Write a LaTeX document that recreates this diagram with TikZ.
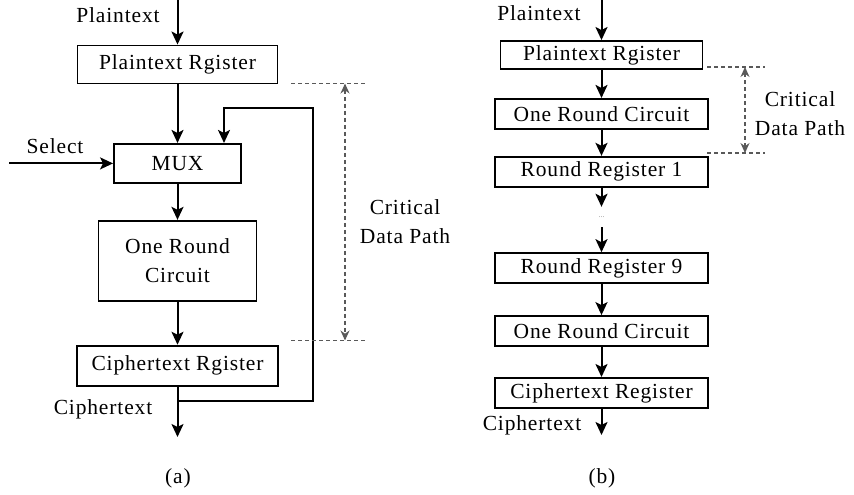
\documentclass[tikz,border=0pt]{standalone}
\usepackage{fontspec}
\setmainfont{Liberation Serif}[LetterSpace=4.0]
\usetikzlibrary{positioning, arrows.meta, calc}

\begin{document}
\begin{tikzpicture}[
		x=1pt, y=-1pt,
		>={Stealth[length=13pt, width=12pt, inset=3pt]},
		% Styles for the register / circuit boxes
		block/.style={
			draw, line width=1.9pt, inner sep=0pt, align=center,
			font=\fontsize{21.5}{29}\selectfont
		},
		% Style for the free text labels
		tag/.style={font=\fontsize{21.5}{29}\selectfont, inner sep=0pt, align=center},
		% Signal lines and the dashed critical path markers
		wire/.style={line width=2pt},
		mark_line/.style={black!65, line width=1.1pt, dash pattern=on 4pt off 3pt},
		mark_arrow/.style={mark_line, {Stealth[length=10pt, width=9pt]}-{Stealth[length=10pt, width=9pt]}}
		]
		
		\useasboundingbox (0,0) rectangle (854,495);
		
		% ==========================================
		% (a) Iterative architecture
		% ==========================================
		\node[block, minimum width=200pt, minimum height=38pt] (regPA) at (177.5,64.5) {Plaintext Rgister};
		\node[block, minimum width=127pt, minimum height=39pt, below=58.5pt of regPA] (mux) {MUX};
		\node[block, minimum width=158pt, minimum height=80pt, below=36pt of mux] (roundA) {One Round\\Circuit};
		\node[block, minimum width=201pt, minimum height=40pt, below=43pt of roundA] (regCA) {Ciphertext Rgister};
		
		% Inputs and outputs
		\node[tag] (plainA) at (118,15) {Plaintext};
		\coordinate (inA) at (177.5,0);
		\draw[wire, ->] (inA) -- (regPA.north);
		
		\node[tag] (select) at (55,146) {Select};
		\coordinate (selIn) at ([xshift=-104pt]mux.west);
		\draw[wire, ->] (selIn) -- (mux.west);
		
		\draw[wire, ->] (regPA.south) -- (mux.north);
		\draw[wire, ->] (mux.south) -- (roundA.north);
		\draw[wire, ->] (roundA.south) -- (regCA.north);
		
		\coordinate (outA) at (177.5,437);
		\draw[wire, ->] (regCA.south) -- (outA);
		\node[tag] (cipherA) at (103,409) {Ciphertext};
		
		% Feedback loop back into the MUX
		\coordinate (fbA) at (177.5,401);
		\coordinate (fbTop) at (313,108);
		\draw[wire, ->] (fbA) -| (fbTop) -| ([xshift=46.5pt]mux.north);
		
		% Critical data path marker
		\coordinate (cpA1) at (291,83.5);
		\coordinate (cpA2) at (291,340.5);
		\draw[mark_line] (cpA1) -- ++(75,0);
		\draw[mark_line] (cpA2) -- ++(75,0);
		\draw[mark_arrow] ($(cpA1)+(54,0)$) -- ($(cpA2)+(54,0)$);
		\node[tag] (critA) at (405,222) {Critical\\Data Path};
		
		\node[tag] (capA) at (178,478) {(a)};
		
		% ==========================================
		% (b) Unrolled architecture
		% ==========================================
		\node[block, minimum width=202pt, minimum height=28pt] (regPB) at (601.5,55) {Plaintext Rgister};
		\node[block, minimum width=213pt, minimum height=30pt, below=28pt of regPB] (roundB1) {One Round Circuit};
		\node[block, minimum width=213pt, minimum height=30pt, below=26pt of roundB1] (reg1) {Round Register 1};
		\node[font=\fontsize{7}{7}\selectfont, text=black!55, inner sep=0pt, minimum height=20pt] (gap) at (601.5,217) {...};
		\node[block, minimum width=213pt, minimum height=30pt, below=25pt of gap] (reg9) {Round Register 9};
		\node[block, minimum width=213pt, minimum height=30pt, below=31pt of reg9] (roundB2) {One Round Circuit};
		\node[block, minimum width=213pt, minimum height=30pt, below=30pt of roundB2] (regCB) {Ciphertext Register};
		
		% Inputs and outputs
		\node[tag] (plainB) at (539,13) {Plaintext};
		\coordinate (inB) at (601.5,0);
		\draw[wire, ->] (inB) -- (regPB.north);
		
		\draw[wire, ->] (regPB.south) -- (roundB1.north);
		\draw[wire, ->] (roundB1.south) -- (reg1.north);
		\draw[wire, ->] (reg1.south) -- (gap.north);
		\draw[wire, ->] (gap.south) -- (reg9.north);
		\draw[wire, ->] (reg9.south) -- (roundB2.north);
		\draw[wire, ->] (roundB2.south) -- (regCB.north);
		
		\coordinate (outB) at (601.5,435);
		\draw[wire, ->] (regCB.south) -- (outB);
		\node[tag] (cipherB) at (532,425) {Ciphertext};
		
		% Critical data path marker
		\coordinate (cpB1) at (707,67);
		\coordinate (cpB2) at (707,153);
		\draw[mark_line] (cpB1) -- ++(58,0);
		\draw[mark_line] (cpB2) -- ++(58,0);
		\draw[mark_arrow] ($(cpB1)+(38,0)$) -- ($(cpB2)+(38,0)$);
		\node[tag] (critB) at (800,114) {Critical\\Data Path};
		
		\node[tag] (capB) at (602,478) {(b)};
		
	\end{tikzpicture}
\end{document}
